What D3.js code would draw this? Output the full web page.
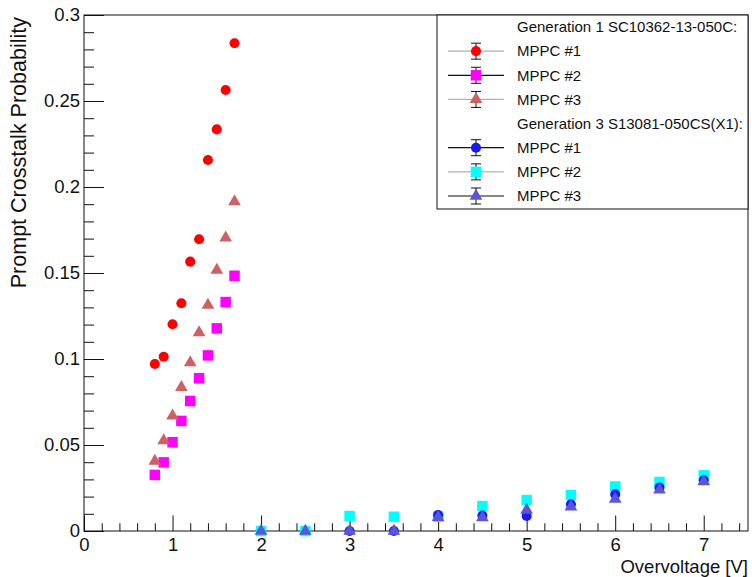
<!DOCTYPE html>
<html>
<head>
<meta charset="utf-8">
<script src="https://cdn.jsdelivr.net/npm/d3@7"></script>
<style>
  html, body { margin: 0; padding: 0; background: #fff; }
  svg { display: block; }
  text { font-family: "Liberation Sans", Arial, sans-serif; fill: #111; }
</style>
</head>
<body>
<svg id="chart" width="752" height="577"></svg>
<script>
// Overvoltage settings (V)
const gen1Voltage = [0.8, 0.9, 1.0, 1.1, 1.2, 1.3, 1.4, 1.5, 1.6, 1.7];
const gen3Voltage = [2, 2.5, 3, 3.5, 4, 4.5, 5, 5.5, 6, 6.5, 7];

// Generation 1 SC10362-13-050C
const gen1Mppc1 = [0.0971, 0.1013, 0.1202, 0.1324, 0.1566, 0.1696, 0.2157, 0.2335, 0.2564, 0.2836];
const gen1Mppc2 = [0.0326, 0.0399, 0.0516, 0.0640, 0.0756, 0.0888, 0.1021, 0.1178, 0.1331, 0.1484];
const gen1Mppc3 = [0.0407, 0.0525, 0.0669, 0.0835, 0.0979, 0.1153, 0.1314, 0.1517, 0.1705, 0.1915];

// Generation 3 S13081-050CS(X1)  (null = not measured)
const gen3Mppc1 = [null, null, 0, 0, 0.0093, 0.0090, 0.0087, 0.0155, 0.0213, 0.0252, 0.0295];
const gen3Mppc2 = [0, 0, 0.0087, 0.0083, 0.0083, 0.0145, 0.0180, 0.0209, 0.0259, 0.0285, 0.0324];
const gen3Mppc3 = [0, 0, 0, 0, 0.0080, 0.0078, 0.0122, 0.0141, 0.0185, 0.0240, 0.0288];

// Axis ticks and labels
const xMajorTicks = [0, 1, 2, 3, 4, 5, 6, 7];
const xTickLabels = ["0", "1", "2", "3", "4", "5", "6", "7"];
const yMajorTicks = [0, 0.05, 0.1, 0.15, 0.2, 0.25, 0.3];
const yTickLabels = ["0", "0.05", "0.1", "0.15", "0.2", "0.25", "0.3"];

const xTitle = "Overvoltage [V]";
const yTitle = "Prompt Crosstalk Probability";

const legendHeader1 = "Generation 1 SC10362-13-050C:";
const legendHeader3 = "Generation 3 S13081-050CS(X1):";

const svg = d3.select("#chart");
const frame = { left: 84, right: 748, top: 15, bottom: 531 };

const x = d3.scaleLinear().domain([0, 7.5]).range([frame.left, frame.right]);
const y = d3.scaleLinear().domain([0, 0.3]).range([frame.bottom, frame.top]);

// Minor ticks: 5 subdivisions of each major interval
const xMinor = d3.range(0, 7.5 + 1e-9, 0.2).map(v => +v.toFixed(2)).filter(v => !xMajorTicks.some(m => Math.abs(m - v) < 1e-6));
const yMinor = d3.range(0, 0.3 + 1e-9, 0.01).map(v => +v.toFixed(3)).filter(v => !yMajorTicks.some(m => Math.abs(m - v) < 1e-6));

const xLen = 15.5, yLen = 20;
const labelSize = 18.5;

// Bottom axis
const gx = svg.append("g").attr("transform", `translate(0,${frame.bottom})`);
gx.call(d3.axisBottom(x).tickValues(xMajorTicks).tickSize(-xLen).tickPadding(7)
  .tickFormat((d, i) => xTickLabels[i]));
gx.append("g").call(d3.axisBottom(x).tickValues(xMinor).tickSize(-xLen / 2).tickFormat(""));
gx.selectAll(".domain").remove();
gx.selectAll("line").attr("stroke", "#111");
gx.selectAll("text").attr("font-size", labelSize).attr("fill", "#111");

// Left axis
const gy = svg.append("g").attr("transform", `translate(${frame.left},0)`);
gy.call(d3.axisLeft(y).tickValues(yMajorTicks).tickSize(-yLen).tickPadding(4)
  .tickFormat((d, i) => yTickLabels[i]));
gy.append("g").call(d3.axisLeft(y).tickValues(yMinor).tickSize(-yLen / 2).tickFormat(""));
gy.selectAll(".domain").remove();
gy.selectAll("line").attr("stroke", "#111");
gy.selectAll("text").attr("font-size", labelSize).attr("fill", "#111");

// Frame
svg.append("rect")
  .attr("x", frame.left).attr("y", frame.top)
  .attr("width", frame.right - frame.left).attr("height", frame.bottom - frame.top)
  .attr("fill", "none").attr("stroke", "#111").attr("stroke-width", 1);

// Axis titles
svg.append("text")
  .attr("x", frame.right).attr("y", 573)
  .attr("text-anchor", "end").attr("font-size", labelSize)
  .text(xTitle);
svg.append("text")
  .attr("transform", `translate(26,${frame.top + 2}) rotate(-90)`)
  .attr("text-anchor", "end").attr("font-size", 21.5)
  .text(yTitle);

// Marker shapes
const markerSize = { circle: 80, square: 110, triangle: 70 };
const symbolOf = { circle: d3.symbolCircle, square: d3.symbolSquare, triangle: d3.symbolTriangle };
function marker(shape) {
  return d3.symbol().type(symbolOf[shape]).size(markerSize[shape]);
}

const series = [
  { xs: gen1Voltage, ys: gen1Mppc1, shape: "circle", color: "#ff0000", line: "#b0b0b0", label: "MPPC #1" },
  { xs: gen1Voltage, ys: gen1Mppc2, shape: "square", color: "#ff00ff", line: "#111", label: "MPPC #2" },
  { xs: gen1Voltage, ys: gen1Mppc3, shape: "triangle", color: "#cf6164", line: "#b0b0b0", label: "MPPC #3" },
  { xs: gen3Voltage, ys: gen3Mppc1, shape: "circle", color: "#1a1af5", line: "#111", label: "MPPC #1" },
  { xs: gen3Voltage, ys: gen3Mppc2, shape: "square", color: "#00ffff", line: "#b0b0b0", label: "MPPC #2" },
  { xs: gen3Voltage, ys: gen3Mppc3, shape: "triangle", color: "#5a56d9", line: "#111", label: "MPPC #3" }
];

// Drawing order: generation 1, then gen 3 squares, circles, triangles
const drawOrder = [0, 1, 2, 4, 3, 5];
const plot = svg.append("g");
drawOrder.forEach(k => {
  const s = series[k];
  const pts = s.xs.map((v, i) => ({ v, p: s.ys[i] })).filter(d => d.p !== null);
  plot.append("g").selectAll("path")
    .data(pts).join("path")
    .attr("d", marker(s.shape))
    .attr("transform", d => `translate(${x(d.v)},${y(d.p)})`)
    .attr("fill", s.color);
});

// Legend
const leg = { left: 437, top: 15, right: 748, bottom: 209 };
svg.append("rect")
  .attr("x", leg.left).attr("y", leg.top)
  .attr("width", leg.right - leg.left).attr("height", leg.bottom - leg.top)
  .attr("fill", "#fff").attr("stroke", "#111");

const rowY = d3.scalePoint().domain(d3.range(8)).range([27, 196]);
const rows = [
  { header: legendHeader1 },
  { s: series[0] }, { s: series[1] }, { s: series[2] },
  { header: legendHeader3 },
  { s: series[3] }, { s: series[4] }, { s: series[5] }
];
const symX0 = 448, symX1 = 504, symXc = 476, textX = 517;
const legendSize = 15;
rows.forEach((r, i) => {
  const cy = rowY(i);
  const g = svg.append("g");
  if (r.header) {
    g.append("text").attr("x", textX).attr("y", cy).attr("dy", "0.35em")
      .attr("font-size", legendSize).text(r.header);
    return;
  }
  g.append("line").attr("x1", symX0).attr("x2", symX1).attr("y1", cy).attr("y2", cy)
    .attr("stroke", r.s.line).attr("stroke-width", 1.2);
  g.append("line").attr("x1", symXc).attr("x2", symXc).attr("y1", cy - 8).attr("y2", cy + 8)
    .attr("stroke", "#111");
  [cy - 8, cy + 8].forEach(cyy => g.append("line")
    .attr("x1", symXc - 5).attr("x2", symXc + 5).attr("y1", cyy).attr("y2", cyy)
    .attr("stroke", "#111"));
  g.append("path").attr("d", marker(r.s.shape))
    .attr("transform", `translate(${symXc},${cy})`).attr("fill", r.s.color);
  g.append("text").attr("x", textX).attr("y", cy).attr("dy", "0.35em")
    .attr("font-size", legendSize).text(r.s.label);
});
</script>
</body>
</html>
